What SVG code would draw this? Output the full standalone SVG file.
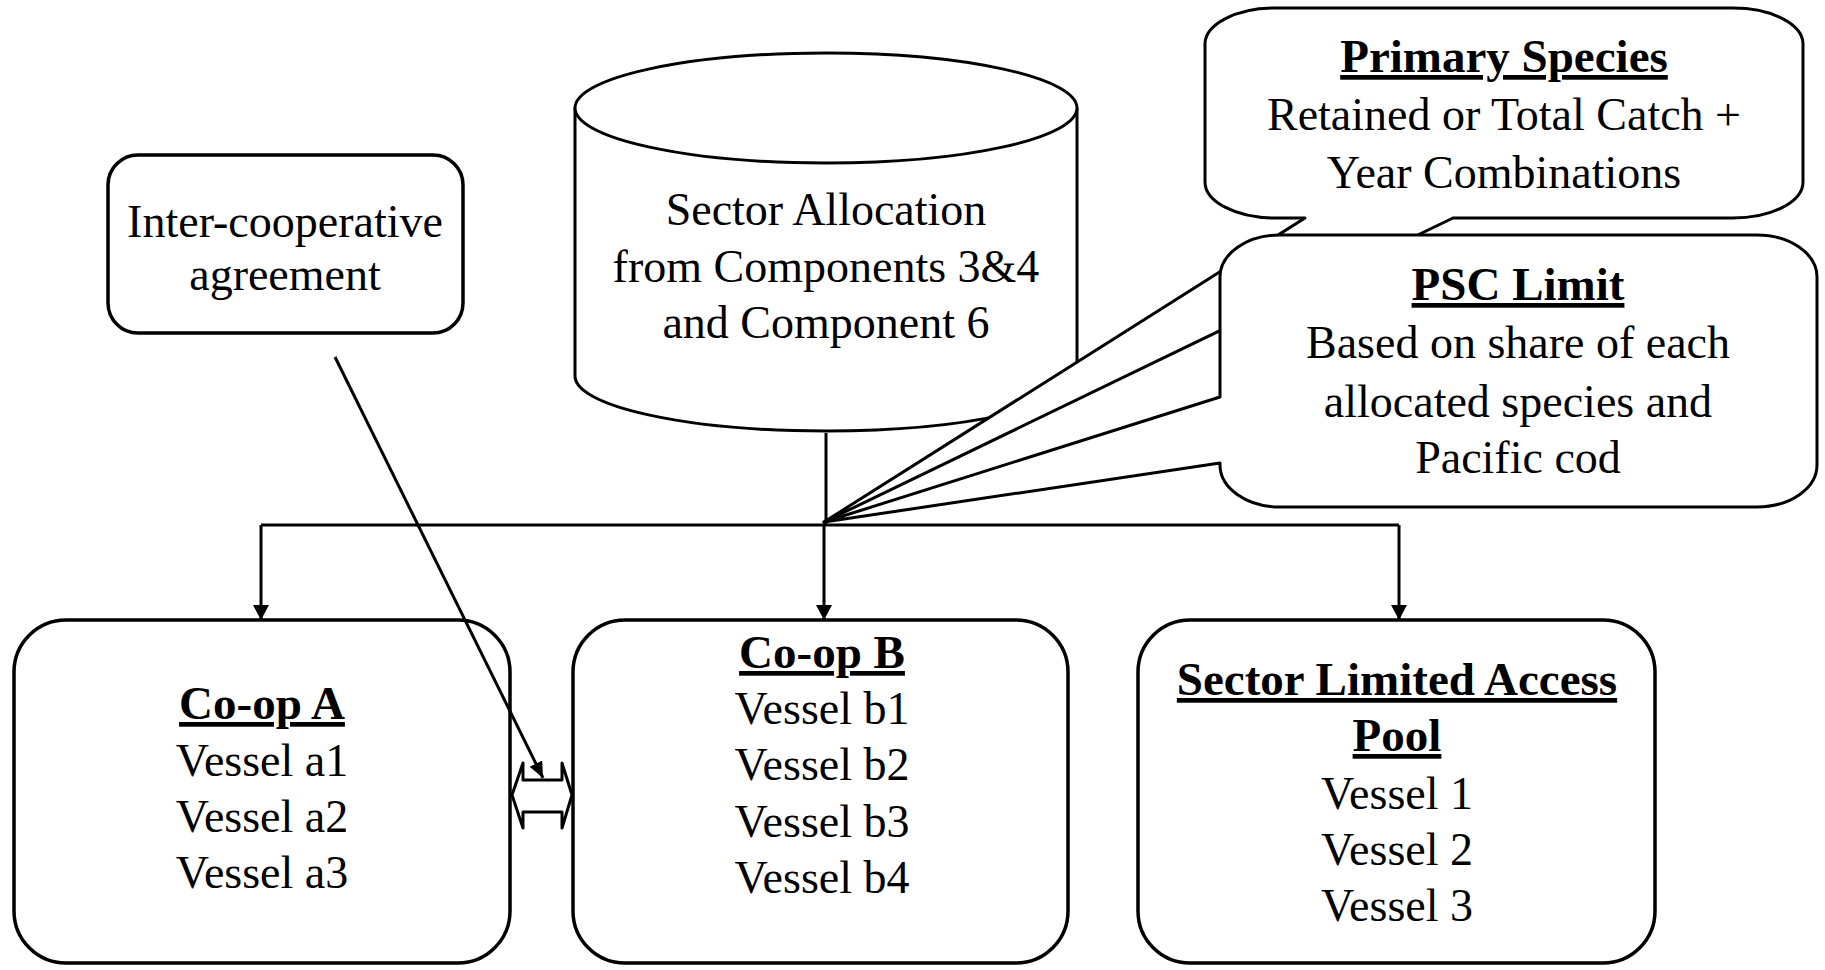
<svg xmlns="http://www.w3.org/2000/svg" width="1825" height="970" viewBox="0 0 1825 970">
  <style>
    .box { fill: #fff; stroke: #000; stroke-width: 3.5; }
    .shape { fill: #fff; stroke: #000; stroke-width: 3; stroke-linejoin: round; }
    .conn { fill: none; stroke: #000; stroke-width: 3; }
    text { font-family: "Liberation Serif", "Times New Roman", serif; font-size: 46px; fill: #000; text-anchor: middle; }
    .title { font-weight: bold; font-size: 47px; text-decoration: underline; }
  </style>
  <defs>
    <marker id="arrowDown" viewBox="0 0 15 16" refX="15" refY="8" markerWidth="15" markerHeight="16" markerUnits="userSpaceOnUse" orient="auto">
      <path d="M0,0 L15,8 L0,16 Z" fill="#000"/>
    </marker>
    <marker id="arrowSmall" viewBox="0 0 16 14" refX="16" refY="7" markerWidth="16" markerHeight="14" markerUnits="userSpaceOnUse" orient="auto">
      <path d="M0,0 L16,7 L0,14 Z" fill="#000"/>
    </marker>
  </defs>

  <rect width="1825" height="970" fill="#fff"/>

  <!-- Sector allocation cylinder -->
  <g id="sector-allocation">
    <path class="shape" d="M575,108 V376 A251 55 0 0 0 1077,376 V108"/>
    <ellipse class="shape" cx="826" cy="108" rx="251" ry="55"/>
    <text x="826" y="225">Sector Allocation</text>
    <text x="826" y="282">from Components 3&amp;4</text>
    <text x="826" y="338">and Component 6</text>
  </g>

  <!-- Inter-cooperative agreement -->
  <g id="inter-coop">
    <rect class="box" x="108" y="155" width="355" height="178" rx="30" ry="30"/>
    <text x="285" y="237">Inter-cooperative</text>
    <text x="285" y="290">agreement</text>
  </g>

  <!-- Co-op A -->
  <g id="coop-a">
    <rect class="box" x="14" y="620" width="496" height="343" rx="52" ry="52"/>
    <text class="title" x="262" y="719">Co-op A</text>
    <text x="262" y="776">Vessel a1</text>
    <text x="262" y="832">Vessel a2</text>
    <text x="262" y="888">Vessel a3</text>
  </g>

  <!-- Co-op B -->
  <g id="coop-b">
    <rect class="box" x="573" y="620" width="495" height="343" rx="52" ry="52"/>
    <text class="title" x="822" y="668">Co-op B</text>
    <text x="822" y="724">Vessel b1</text>
    <text x="822" y="780">Vessel b2</text>
    <text x="822" y="837">Vessel b3</text>
    <text x="822" y="893">Vessel b4</text>
  </g>

  <!-- Sector limited access pool -->
  <g id="lap">
    <rect class="box" x="1138" y="620" width="517" height="343" rx="52" ry="52"/>
    <text class="title" x="1397" y="695">Sector Limited Access</text>
    <text class="title" x="1397" y="751">Pool</text>
    <text x="1397" y="809">Vessel 1</text>
    <text x="1397" y="865">Vessel 2</text>
    <text x="1397" y="921">Vessel 3</text>
  </g>

  <!-- Connectors -->
  <g id="connectors">
    <path class="conn" d="M826,433 V525"/>
    <path class="conn" d="M261,525 H1399"/>
    <path class="conn" d="M261,525 V620" marker-end="url(#arrowDown)"/>
    <path class="conn" d="M824,525 V620" marker-end="url(#arrowDown)"/>
    <path class="conn" d="M1399,525 V620" marker-end="url(#arrowDown)"/>
    <path class="conn" d="M335,357 L543,778" marker-end="url(#arrowSmall)"/>
    <!-- two-way block arrow between the co-ops -->
    <path class="shape" d="M512,795 L523,763 V780 H562 V763 L572,795 L562,828 V812 H523 V828 Z"/>
  </g>

  <!-- Primary species callout -->
  <g id="primary-species">
    <path class="shape" d="M1275,8 H1733 A70 36 0 0 1 1803,44 V182 A70 36 0 0 1 1733,218 H1453 L824,522 L1305,218 H1275 A70 36 0 0 1 1205,182 V44 A70 36 0 0 1 1275,8 Z"/>
    <text class="title" x="1504" y="72">Primary Species</text>
    <text x="1504" y="130">Retained or Total Catch +</text>
    <text x="1504" y="188">Year Combinations</text>
  </g>

  <!-- PSC limit callout -->
  <g id="psc-limit">
    <path class="shape" d="M1280,235 H1757 A60 42 0 0 1 1817,277 V465 A60 42 0 0 1 1757,507 H1280 A60 42 0 0 1 1220,465 V463 L824,522 L1220,397 V277 A60 42 0 0 1 1280,235 Z"/>
    <text class="title" x="1518" y="300">PSC Limit</text>
    <text x="1518" y="358">Based on share of each</text>
    <text x="1518" y="417">allocated species and</text>
    <text x="1518" y="473">Pacific cod</text>
  </g>
</svg>
